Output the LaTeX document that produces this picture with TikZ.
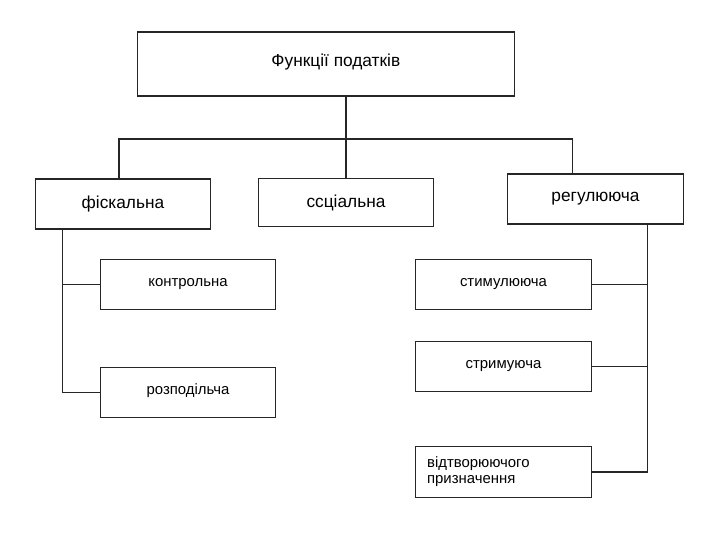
\documentclass[tikz,border=0pt]{standalone}
\usepackage{fontspec}
\setmainfont{Liberation Sans}
\usetikzlibrary{positioning}

\begin{document}
\begin{tikzpicture}[x=0.025cm, y=-0.025cm, line width=0.8pt, draw=black!85]
    \tikzstyle{box}=[rectangle, draw=black!85, minimum width=4.4cm, minimum height=1.27cm, inner sep=0pt, font=\fontsize{10.6}{12.5}\selectfont]
    \tikzstyle{main box}=[box, minimum width=9.42cm, minimum height=1.6cm, font=\fontsize{12.3}{14}\selectfont]
    \tikzstyle{func box}=[box, minimum width=4.39cm, minimum height=1.25cm, font=\fontsize{12.3}{14}\selectfont]
    \tikzstyle{sub box}=[box, minimum width=4.42cm]

    \useasboundingbox (0,0) rectangle (720,540);

    % Draw the top node
    \node[main box] (F) at (326,64) {\hspace{14pt}\raisebox{5pt}{Функції податків}};

    % Draw the three functions
    \node[func box] (fis) at (123,204) {фіскальна};
    \node[func box, minimum height=1.18cm] (soc) at (346,202.5) {ссціальна};
    \node[func box] (reg) at (595.5,199) {регулююча};

    % Draw the sub functions of the fiscal one
    \node[sub box, minimum width=4.39cm] (kontr) at (188,284.5) {\raisebox{2pt}{контрольна}\hspace{8pt}};
    \node[sub box, minimum width=4.39cm] (rozp) at (188,392.5) {\raisebox{5pt}{розподільча}\hspace{8pt}};

    % Draw the sub functions of the regulating one
    \foreach \name / \y / \txt in {stim/284.5/стимулююча, strym/366.5/стримуюча}
        \node[sub box] (\name) at (503.5,\y) {\raisebox{3pt}{\txt}\hspace{10pt}};
    \node[sub box, align=left, text width=3.82cm, inner xsep=0.3cm, font=\fontsize{10.6}{11.5}\selectfont] (vidtv) at (503.5,472) {\raisebox{3pt}{\parbox[c]{3.82cm}{відтворюючого\\призначення}}};

    % Connect the top node with the functions
    \coordinate (bus) at (soc.north |- 0,139);
    \draw (soc.north) -- (soc.north |- F.south);
    \draw ([xshift=-0.1cm]fis.north) |- (bus);
    \draw ([xshift=-0.58cm]reg.north) |- (bus);

    % Connect the fiscal function with its sub functions
    \coordinate (fisbus) at ([xshift=0.69cm]fis.south west);
    \draw (fisbus) |- (rozp.west);
    \draw (kontr.west) -| (fisbus);

    % Connect the regulating function with its sub functions
    \coordinate (regbus) at ([xshift=-0.9cm]reg.south east);
    \draw (regbus) |- (vidtv.east);
    \foreach \dest in {stim,strym}
        \draw (\dest.east) -| (regbus);
\end{tikzpicture}
\end{document}
